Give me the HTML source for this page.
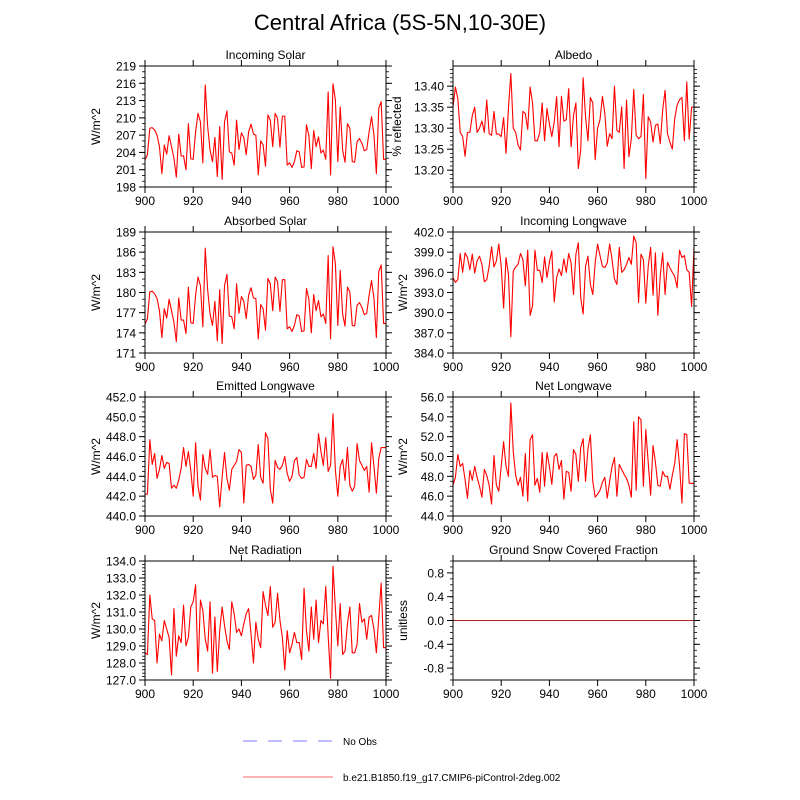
<!DOCTYPE html>
<html><head><meta charset="utf-8"><style>
body{margin:0;background:#fff;}
svg{display:block;font-family:"Liberation Sans",sans-serif;}
</style></head><body>
<svg id="chart" width="800" height="800" viewBox="0 0 800 800">
<text x="400" y="30" text-anchor="middle" font-size="22">Central Africa (5S-5N,10-30E)</text>
<g>
<line x1="243" y1="741" x2="333" y2="741" stroke="#a6a6ff" stroke-width="1.5" stroke-dasharray="14,11"/>
<text x="343" y="745" font-size="10">No Obs</text>
<line x1="243" y1="777" x2="333" y2="777" stroke="#ff9a9a" stroke-width="1.5"/>
<text x="343" y="781" font-size="10">b.e21.B1850.f19_g17.CMIP6-piControl-2deg.002</text>
</g>
</svg>
<script>
var years = [];
for (var k = 900; k <= 1000; k++) years.push(k);
var xTicks = [900, 920, 940, 960, 980, 1000];

var incomingSolar = [202.7,203.6,208.2,208.3,207.9,207,205,200.3,205.3,203.7,206.9,205,203,199.7,207.2,203.4,203.4,201,209,202.9,202.8,207.6,210.8,209.3,202.2,215.7,208.5,204.4,202.4,206.6,199.8,208.5,199.3,209.3,211.2,204.1,203.9,201.8,209.6,204.5,207.4,206.6,203.6,207.6,208.9,207.2,207,200.1,206,205.3,201.6,210.5,209.6,205,210.8,209.9,204.9,210.3,210.3,201.8,202.2,201.4,202.4,204.3,204.1,201.4,201.5,208.8,206.9,201.2,207.8,205,206.7,203.9,204.4,202.8,214.5,200.1,215.9,213.1,202.4,211.9,204.4,202.3,209,208.2,202.4,202.3,205.9,206.4,205.6,204.3,204.5,207.6,210.2,207,200.3,211.7,212.8,202.8,202.8];
var albedo = [13.351,13.398,13.37,13.29,13.28,13.233,13.29,13.29,13.33,13.35,13.29,13.30,13.317,13.29,13.367,13.287,13.283,13.34,13.286,13.286,13.28,13.325,13.24,13.347,13.43,13.30,13.29,13.26,13.248,13.34,13.335,13.297,13.398,13.36,13.27,13.27,13.29,13.36,13.27,13.347,13.31,13.28,13.315,13.375,13.256,13.376,13.317,13.32,13.394,13.256,13.33,13.36,13.204,13.248,13.42,13.327,13.27,13.373,13.36,13.225,13.30,13.32,13.376,13.335,13.257,13.287,13.275,13.40,13.295,13.29,13.351,13.204,13.367,13.232,13.275,13.392,13.283,13.275,13.28,13.38,13.18,13.327,13.315,13.267,13.307,13.31,13.263,13.343,13.39,13.287,13.267,13.25,13.323,13.355,13.368,13.373,13.27,13.41,13.274,13.35,13.35];
var absorbedSolar = [175.3,176.1,180.1,180.2,179.8,179.1,177.3,173.3,177.6,176.2,179.0,177.3,175.6,172.7,179.2,175.9,175.9,173.9,180.8,175.5,175.4,179.6,182.3,181.0,174.9,186.6,180.4,176.8,175.1,178.7,172.8,180.4,172.4,181.0,182.7,176.5,176.4,174.6,181.3,176.9,179.4,178.7,176.1,179.6,180.7,179.2,179.1,173.1,178.2,177.6,174.4,182.1,181.3,177.3,182.3,181.6,177.2,181.9,181.9,174.6,174.9,174.2,175.1,176.7,176.5,174.2,174.3,180.6,179.0,174.0,179.7,177.3,178.8,176.4,176.8,175.4,185.5,173.1,186.8,184.3,175.1,183.3,176.8,175.0,180.8,180.1,175.1,175.0,178.1,178.5,177.8,176.7,176.9,179.6,181.8,179.1,173.3,183.1,184.1,175.4,175.4];
var incomingLongwave = [395.2,394.5,394.9,398.8,396,398.9,398.2,396.4,398.7,395.9,397.7,398.4,397.2,394.6,394.9,396.9,399.8,396.8,397.7,400.2,396.9,390.7,398.2,395.7,386.4,396.2,396.8,397.2,398.8,397.9,394.0,399.3,389.6,391.0,399.3,396.3,396.3,394.5,398.3,395.2,397.5,399.2,391.6,395.2,396.5,395.5,398.0,396,398.8,397.4,392.7,398.7,400.4,392.2,389.8,396.9,398.4,394.2,392.7,397.4,400.2,398.5,396.9,396.7,397.4,400.2,397.9,395.0,394.2,399.7,396,396.4,397.2,398.2,397.2,401.4,400.4,391.5,398.7,397.9,391.4,396.9,399.7,392.6,398.9,389.6,395.5,398.9,392.7,397.5,396.7,396,395.4,393.7,399.3,398.2,398.5,396.4,396,390.9,399.8];
var emittedLongwave = [442.2,442.2,447.7,445.2,446.3,443.8,444.7,446.1,444.8,445.4,445.3,442.8,443.1,442.8,443.6,444.8,446.9,445.0,446.5,444.6,442.0,447.4,443.0,441.6,446.2,444.8,444.2,446.7,443.9,444.1,444.0,440.9,443.9,446.4,443.8,442.6,444.7,445.1,445.5,446.7,446.4,441.3,445.1,445.2,445.0,443.7,444.1,447.2,443.9,443.3,448.4,447.8,442.7,441.3,445.6,444.9,444.7,445.1,446.0,444.3,443.5,444.0,445.6,445.9,444.1,443.8,443.9,445.7,445.0,445.0,446.3,444.8,448.3,446.5,445.1,447.9,444.5,445.1,450.3,444.6,442.0,445.0,445.7,443.6,446.9,443.1,442.5,443.0,447.3,445.6,445.1,444.6,445.0,442.4,447.4,445.0,442.3,445.8,446.9,446.9,446.9];
var netLongwave = [47.1,47.9,50.2,49.0,49.3,47.7,45.8,48.6,47.6,49.0,47.9,47.0,45.9,48.7,48.1,47.1,45.2,50.1,47.1,46.5,49.0,51.5,49.0,48.0,55.4,50.5,48.1,47.1,47.9,46.0,50.3,45.5,51.7,52.2,47.1,47.8,46.4,50.4,47.0,50.4,49.0,47.2,50.0,50.3,48.7,49.6,45.7,48.5,48.4,46.5,50.7,50.2,47.5,50.9,51.8,47.5,50.8,52.2,47.5,45.9,46.2,46.6,47.4,47.9,45.8,47.5,49.0,49.9,46.0,49.2,48.7,48.2,47.8,47.1,45.9,53.5,46.6,54.0,53.7,47.0,52.7,49.4,46.1,51.1,49.4,47.1,47.0,48.5,48.0,48.0,46.7,48.1,49.3,51.7,49.1,45.3,52.3,52.2,47.3,47.3,47.3];
var netRadiation = [128.6,128.5,132.0,130.6,130.5,128.0,129.7,129.3,130.5,130.0,129.5,127.3,131.2,128.4,129.6,129.2,131.4,129.0,129.5,131.3,131.6,132.6,127.5,131.7,131.1,129.4,128.7,131.6,127.4,130.7,127.5,129.9,131.3,130.2,129.3,128.8,131.6,130.9,129.8,130.0,129.6,130.3,130.9,131.2,129.7,128.0,130.4,129.4,128.9,132.2,131.4,130.8,132.5,130.1,130.4,132.1,130.5,129.5,127.6,129.9,128.6,129.1,129.8,129.2,129.2,128.2,132.4,129.9,128.7,131.3,129.4,131.7,129.2,130.5,130.3,132.5,129.6,127.1,133.7,131.2,129.0,131.5,128.5,128.7,130.3,131.3,128.6,128.6,129.1,131.5,130.4,130.6,129.4,130.7,130.8,130.0,128.6,130.7,132.7,128.9,128.9];
var snowFraction = [];
for (var k = 0; k < years.length; k++) snowFraction.push(0);

var ticksP1 = [198,201,204,207,210,213,216,219];
var ticksP2 = [13.20,13.25,13.30,13.35,13.40];
var ticksP3 = [171,174,177,180,183,186,189];
var ticksP4 = [384,387,390,393,396,399,402];
var ticksP5 = [440,442,444,446,448,450,452];
var ticksP6 = [44,46,48,50,52,54,56];
var ticksP7 = [127,128,129,130,131,132,133,134];
var ticksP8 = [-0.8,-0.4,0.0,0.4,0.8];

var NS = "http://www.w3.org/2000/svg";
var svg = document.getElementById("chart");
function mk(tag, attrs, parent) {
  var e = document.createElementNS(NS, tag);
  for (var a in attrs) e.setAttribute(a, attrs[a]);
  (parent || svg).appendChild(e);
  return e;
}

var panels = [
  {key:"incoming-solar", title:"Incoming Solar", ylab:"W/m^2", x:145, y:66, h:121, ymin:198, ymax:219, ticks:ticksP1, minor:1, dec:0, data:incomingSolar, ylx:100},
  {key:"albedo", title:"Albedo", ylab:"% reflected", x:453, y:66, h:121, ymin:13.16, ymax:13.448, ticks:ticksP2, minor:0.01, dec:2, data:albedo, ylx:401},
  {key:"absorbed-solar", title:"Absorbed Solar", ylab:"W/m^2", x:145, y:232, h:121, ymin:171, ymax:189, ticks:ticksP3, minor:1, dec:0, data:absorbedSolar, ylx:100},
  {key:"incoming-longwave", title:"Incoming Longwave", ylab:"W/m^2", x:453, y:232, h:121, ymin:384, ymax:402, ticks:ticksP4, minor:1, dec:1, data:incomingLongwave, ylx:407},
  {key:"emitted-longwave", title:"Emitted Longwave", ylab:"W/m^2", x:145, y:397, h:119, ymin:440, ymax:452, ticks:ticksP5, minor:0.5, dec:1, data:emittedLongwave, ylx:100},
  {key:"net-longwave", title:"Net Longwave", ylab:"W/m^2", x:453, y:397, h:119, ymin:44, ymax:56, ticks:ticksP6, minor:0.5, dec:1, data:netLongwave, ylx:407},
  {key:"net-radiation", title:"Net Radiation", ylab:"W/m^2", x:145, y:561, h:119, ymin:127, ymax:134, ticks:ticksP7, minor:0.2, dec:1, data:netRadiation, ylx:100},
  {key:"snow-fraction", title:"Ground Snow Covered Fraction", ylab:"unitless", x:453, y:561, h:119, ymin:-1, ymax:1, ticks:ticksP8, minor:0.1, dec:1, data:snowFraction, ylx:407}
];

panels.forEach(function(p){
  var W = 241;
  var g = mk("g", {});
  
  
  function xs(v){ return p.x + (v - 900) / 100 * W; }
  function ys(v){ return p.y + p.h - (v - p.ymin) / (p.ymax - p.ymin) * p.h; }
  var t = mk("text", {x: p.x + W/2, y: p.y - 7, "text-anchor":"middle", "font-size":"12"}, g);
  t.textContent = p.title;
  
  
  // series
  var d = "";
  for (var i = 0; i < p.data.length && i < years.length; i++) {
    d += (i ? "L" : "M") + xs(years[i]).toFixed(2) + "," + ys(p.data[i]).toFixed(2);
  }
  var line = mk("path", {d:d, fill:"none", stroke: p.key === "snow-fraction" ? "#b02020" : "#ff0000", "stroke-width":"1.1", "stroke-linejoin":"round"}, g);
  
  
  // frame
  var fr = mk("rect", {x:p.x, y:p.y, width:W, height:p.h, fill:"none", stroke:"#000", "stroke-width":"1"}, g);
  
  
  // minor y ticks
  var n0 = Math.ceil(p.ymin / p.minor - 1e-6), n1 = Math.floor(p.ymax / p.minor + 1e-6);
  for (var n = n0; n <= n1; n++) {
    var yy = ys(n * p.minor);
    mk("line", {x1:p.x-3, x2:p.x, y1:yy, y2:yy, stroke:"#000", "stroke-width":"0.8"}, g);
    mk("line", {x1:p.x+W, x2:p.x+W+3, y1:yy, y2:yy, stroke:"#000", "stroke-width":"0.8"}, g);
  }
  // major y ticks & labels
  p.ticks.forEach(function(v){
    var yy = ys(v);
    mk("line", {x1:p.x-6, x2:p.x, y1:yy, y2:yy, stroke:"#000", "stroke-width":"1"}, g);
    mk("line", {x1:p.x+W, x2:p.x+W+6, y1:yy, y2:yy, stroke:"#000", "stroke-width":"1"}, g);
    var lb = mk("text", {x:p.x-9, y:yy+4.5, "text-anchor":"end", "font-size":"12"}, g);
    lb.textContent = v.toFixed(p.dec);
    
    
  });
  // x ticks & labels
  xTicks.forEach(function(v){
    var xx = xs(v);
    mk("line", {x1:xx, x2:xx, y1:p.y-6, y2:p.y, stroke:"#000", "stroke-width":"1"}, g);
    mk("line", {x1:xx, x2:xx, y1:p.y+p.h, y2:p.y+p.h+6, stroke:"#000", "stroke-width":"1"}, g);
    var lb = mk("text", {x:xx, y:p.y+p.h+18, "text-anchor":"middle", "font-size":"12"}, g);
    lb.textContent = v;
    
    
  });
  var yl = mk("text", {x:p.ylx, y:p.y + p.h/2, "text-anchor":"middle", "font-size":"12", transform:"rotate(-90 " + p.ylx + " " + (p.y + p.h/2) + ")"}, g);
  yl.textContent = p.ylab;
  
  
});
</script>
</body></html>
